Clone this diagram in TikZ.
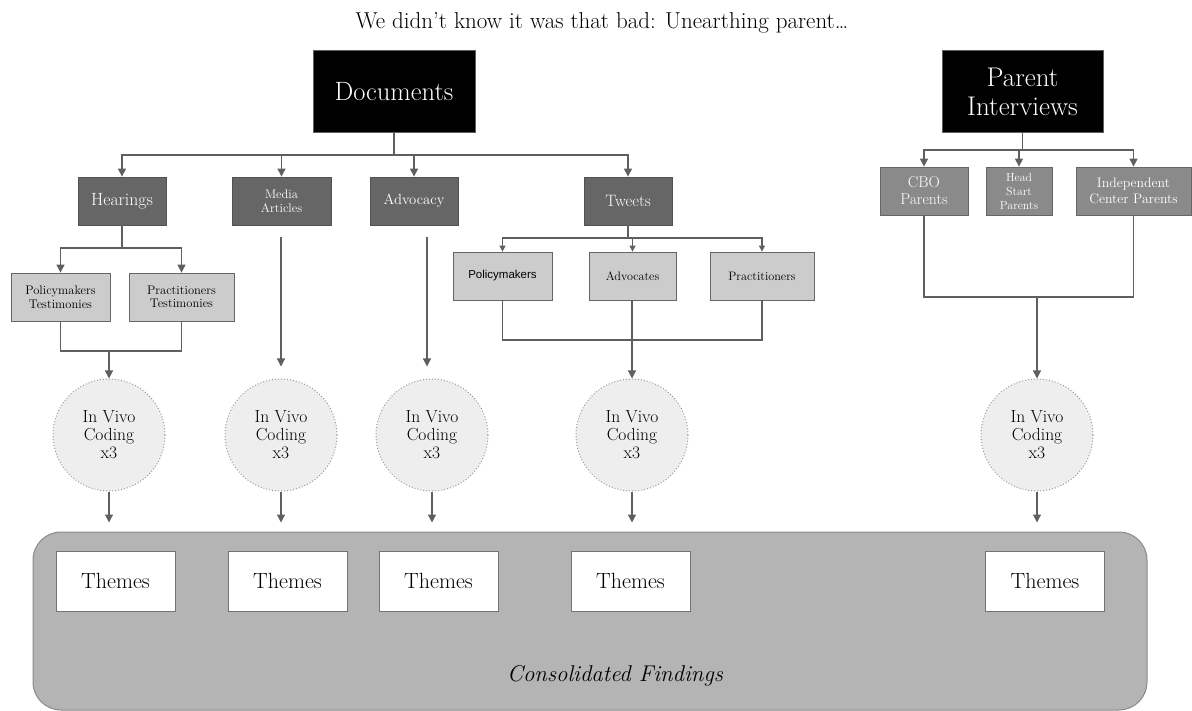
\documentclass[tikz,border=0pt]{standalone}
\usepackage{fontspec}
\newfontfamily\arialf{Liberation Sans}
\usetikzlibrary{arrows.meta,calc}
\definecolor{linec}{HTML}{5F5F5F}
\definecolor{darkbox}{HTML}{666666}
\definecolor{midbox}{HTML}{8A8A8A}
\definecolor{lightbox}{HTML}{CCCCCC}
\definecolor{circfill}{HTML}{EEEEEE}
\definecolor{circline}{HTML}{9A9A9A}
\definecolor{cfill}{HTML}{B4B4B4}
\definecolor{cline}{HTML}{8A8A8A}
\newcommand\myfs[2]{\fontsize{#1}{#2}\selectfont}
\tikzset{
  conn/.style={draw=linec, line width=1.2pt},
  arr/.style={conn, -{Triangle[length=8pt,width=8pt]}},
  sarr/.style={conn, -{Triangle[length=6pt,width=6pt]}},
  topbox/.style={rectangle, fill=black, draw=linec, line width=1pt, text=white, align=center, inner sep=0pt, minimum height=82pt},
  catbox/.style={rectangle, fill=darkbox, draw=darkbox!80!black, line width=0.8pt, text=white, align=center, inner sep=0pt, minimum height=48pt},
  parbox/.style={rectangle, fill=midbox, draw=darkbox, line width=0.8pt, text=white, align=center, inner sep=0pt, minimum height=48pt},
  subbox/.style={rectangle, fill=lightbox, draw=darkbox, line width=0.8pt, text=black, align=center, inner sep=0pt, minimum height=48pt},
  coding/.style={circle, fill=circfill, draw=circline, dotted, line width=1pt, minimum size=112pt, inner sep=0pt, align=center, text=black, font=\myfs{17.5}{18}},
  themebox/.style={rectangle, fill=white, draw=black!55, line width=0.8pt, minimum width=119pt, minimum height=60pt, inner sep=0pt, text=black, font=\myfs{22}{24}},
}
\begin{document}
\begin{tikzpicture}[x=1pt,y=-1pt]
\useasboundingbox (0,0) rectangle (1192,711);

% title
\node[anchor=base, font=\myfs{23}{26}] (title) at (602,29) {We didn't know it was that bad: Unearthing parent\ldots};

% top boxes
\node[topbox, minimum width=162pt, font=\myfs{26.5}{30}] (doc) at (394,92) {Documents};
\node[topbox, minimum width=161pt, font=\myfs{27}{28.5}] (pi) at (1022.5,92) {Parent\\Interviews};

% category boxes
\node[catbox, minimum width=88pt, font=\myfs{17.7}{19}] (hear) at (122,201) {Hearings};
\node[catbox, minimum width=99pt, font=\myfs{12.5}{14.5}] (media) at (281.5,201) {Media\\Articles};
\node[catbox, minimum width=88pt, font=\myfs{14.7}{17}] (adv) at (414,201) {Advocacy};
\node[catbox, minimum width=88pt, font=\myfs{16.5}{18}] (tw) at (628,201) {Tweets};

% hearings sub boxes
\node[subbox, minimum width=99pt, font=\myfs{12.5}{13.5}] (pt) at (60.5,297) {Policymakers\\Testimonies};
\node[subbox, minimum width=105pt, font=\myfs{12.5}{13.5}] (prt) at (181.5,297) {Practitioners\\Testimonies};

% tweets sub boxes
\node[subbox, minimum width=99pt, font=\arialf\fontsize{11.5}{13}\selectfont] (pol) at (502.5,276) {Policymakers};
\node[subbox, minimum width=87pt, font=\myfs{12.2}{14}] (advc) at (632.5,276) {Advocates};
\node[subbox, minimum width=104pt, font=\myfs{12.2}{14}] (prac) at (762,276) {Practitioners};

% parent sub boxes
\node[parbox, minimum width=88pt, font=\myfs{15.7}{17}] (cbo) at (924,191) {CBO\\Parents};
\node[parbox, minimum width=66pt, font=\myfs{11.8}{14}] (hs) at (1019,191) {Head\\Start\\Parents};
\node[parbox, minimum width=115pt, font=\myfs{13.8}{16.5}] (ind) at (1133.5,191) {Independent\\Center Parents};

% coding circles
\node[coding] (c1) at (109,435) {In Vivo\\Coding\\x3};
\node[coding] (c2) at (281,435) {In Vivo\\Coding\\x3};
\node[coding] (c3) at (432,435) {In Vivo\\Coding\\x3};
\node[coding] (c4) at (632,435) {In Vivo\\Coding\\x3};
\node[coding] (c5) at (1037,435) {In Vivo\\Coding\\x3};

% consolidated findings
\node[rectangle, rounded corners=28pt, fill=cfill, draw=cline, line width=1pt, minimum width=1114pt, minimum height=178pt, inner sep=0pt] (cf) at (590,621) {};
\node[font=\itshape\myfs{22.8}{25}, text=black, anchor=base] (cft) at (615,681) {Consolidated Findings};

% themes
\node[themebox] (t1) at (115.5,581) {Themes};
\node[themebox] (t2) at (287.5,581) {Themes};
\node[themebox] (t3) at (438.5,581) {Themes};
\node[themebox] (t4) at (630.5,581) {Themes};
\node[themebox] (t5) at (1045,581) {Themes};

% Documents tree
\coordinate (dj) at (394,155);
\draw[conn] (doc.south) -- (dj);
\draw[arr] (dj) -| (hear.north);
\draw[arr] (dj) -| (media.north);
\draw[arr] (dj) -| (adv.north);
\draw[arr] (dj) -| (tw.north);

% Hearings
\coordinate (hj) at (122,248);
\draw[conn] (hear.south) -- (hj);
\draw[arr] (hj) -| (pt.north);
\draw[arr] (hj) -| (prt.north);
\coordinate (hm) at (109,351);
\draw[conn] (pt.south) |- (hm) -| (prt.south);
\draw[arr] (hm) -- (c1.north);

% Media, Advocacy
\draw[arr, shorten <=12pt, shorten >=12pt] (media.south -| c2.north) -- (c2.north);
\draw[arr, shorten <=12pt, shorten >=12pt] ([xshift=13pt]adv.south) -- ([xshift=13pt]adv.south |- c3.north);

% Tweets
\coordinate (tj) at (628,238);
\draw[conn] (tw.south) -- (tj);
\draw[sarr] (tj) -| (pol.north);
\draw[sarr] (tj) -| (advc.north);
\draw[sarr] (tj) -| (prac.north);
\coordinate (tm) at (632,340);
\draw[conn] (pol.south) |- (tm) -| (prac.south);
\draw[arr] (advc.south -| c4.north) -- (c4.north);

% Parent interviews
\coordinate (pj) at (1022.5,150);
\draw[conn] (pi.south) -- (pj);
\draw[arr] (pj) -| (cbo.north);
\draw[arr] (pj) -| (hs.north);
\draw[arr] (pj) -| (ind.north);
\coordinate (pm) at (1037,297);
\draw[conn] (cbo.south) |- (pm) -| (ind.south);
\draw[arr] (pm) -- (c5.north);

% circles to consolidated findings
\foreach \c in {c1,c2,c3,c4,c5}{
  \draw[arr, shorten >=9pt] (\c.south) -- (\c.south |- cf.north);
}
\end{tikzpicture}
\end{document}
